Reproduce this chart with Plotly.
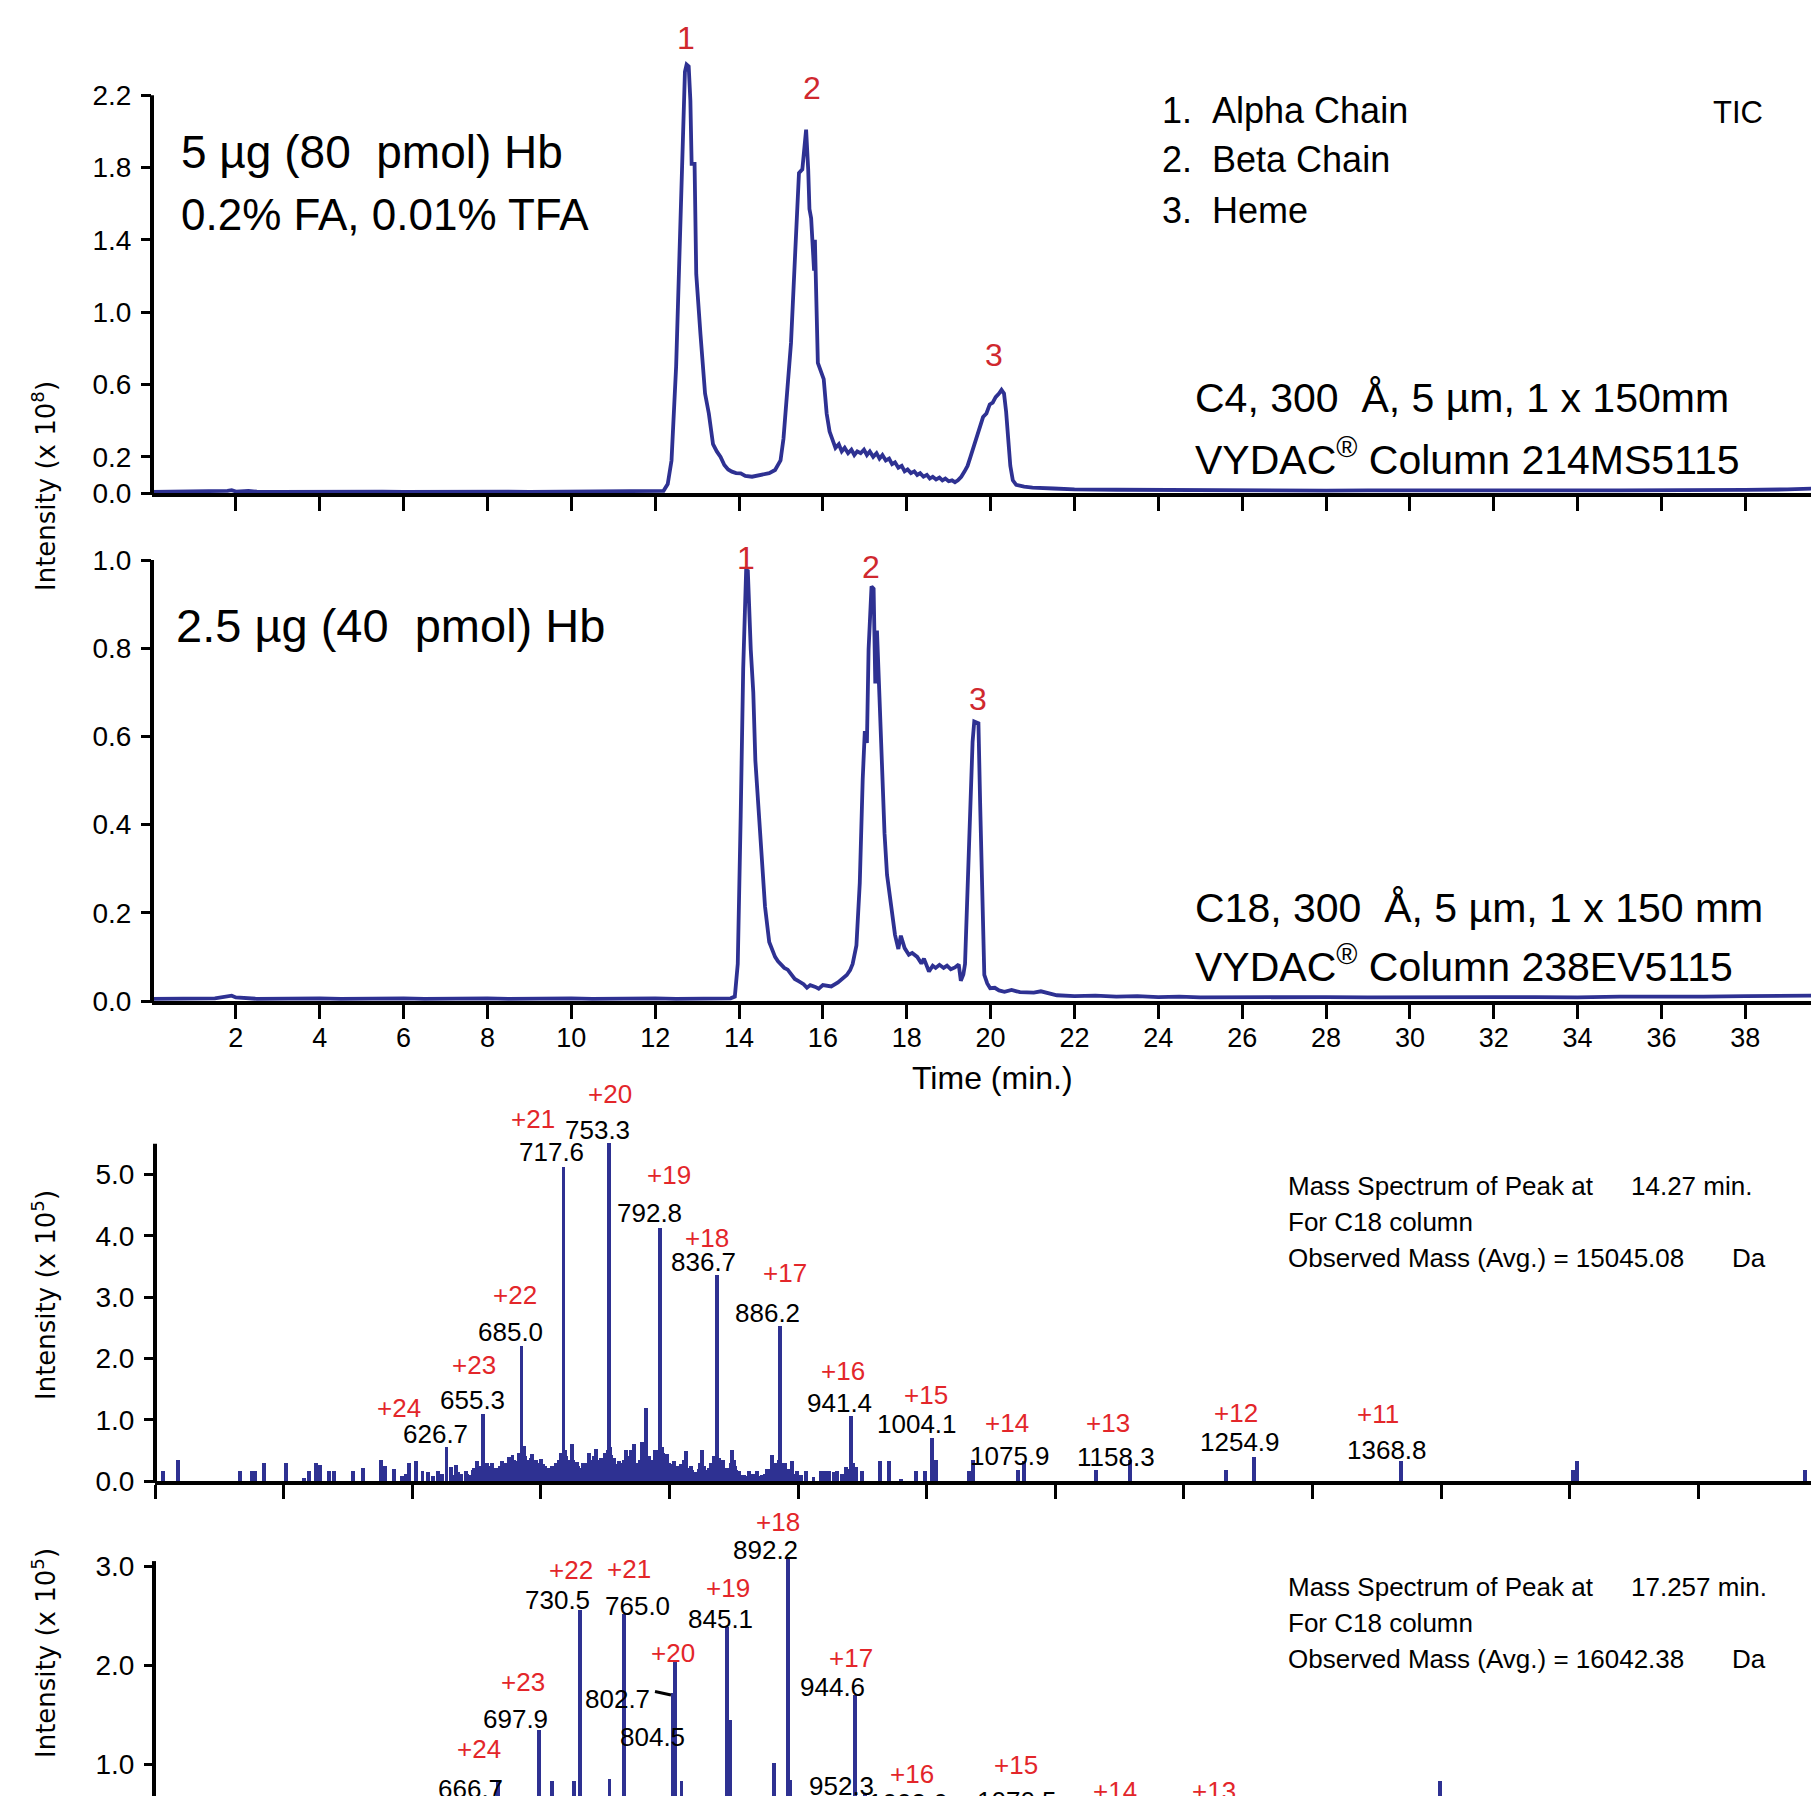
import plotly.graph_objects as go

W = 1811
H_REF = 1796          # target picture height (all pixel positions below refer to it)
H_FIG = 1812          # figure height; the page is squeezed vertically to H_REF when photographed
BLUE = "#2E3192"
RED = "#E3262A"
PRED = "#D0282E"
BLACK = "#000000"
FN = "Liberation Sans Narrow, Arial Narrow, Liberation Sans, sans-serif"
FT = "DejaVu Sans, Verdana, sans-serif"

# ---------------- Chromatogram 1 (C4 column) ----------------
T1 = [0.0, 0.5, 1.0, 1.5, 1.8, 1.9, 2.0, 2.3, 2.5, 3.0, 3.5, 4.0, 4.5, 5.0, 5.5, 6.0, 6.5, 7.0,
      7.5, 8.0, 8.5, 9.0, 9.5, 10.0, 10.5, 11.0, 11.5, 12.0, 12.2,
      12.3, 12.39, 12.5, 12.6, 12.67, 12.71, 12.75, 12.80, 12.84, 12.87, 12.94, 12.98, 13.08,
      13.19, 13.28, 13.38, 13.47, 13.56, 13.65, 13.74, 13.83, 13.93, 14.04, 14.15, 14.31, 14.45,
      14.58, 14.72, 14.86, 14.99, 15.06, 15.13, 15.24, 15.34, 15.43, 15.51, 15.56, 15.60, 15.65,
      15.68, 15.72, 15.75, 15.79, 15.81, 15.84, 15.88, 16.02, 16.09, 16.16, 16.23,
      16.3, 16.38, 16.45, 16.52, 16.6, 16.68, 16.75, 16.82, 16.9, 16.98, 17.05, 17.12, 17.2,
      17.28, 17.35, 17.42, 17.5, 17.58, 17.65, 17.72, 17.8, 17.88, 17.95, 18.02, 18.1, 18.18,
      18.25, 18.32, 18.4, 18.48, 18.55, 18.62, 18.7, 18.78, 18.85, 18.92, 19.0, 19.08, 19.15,
      19.22, 19.3, 19.38, 19.45, 19.52, 19.6, 19.68, 19.75, 19.82, 19.9, 19.98, 20.05, 20.12,
      20.2, 20.26, 20.32, 20.37, 20.42, 20.47, 20.53, 20.61, 20.8, 21.0, 21.5, 22.0, 23.0, 24.0,
      25.0, 26.0, 27.0, 28.0, 29.0, 30.0, 31.0, 32.0, 33.0, 34.0, 35.0, 36.0, 37.0, 38.0, 39.0, 39.6]
I1 = [0.006, 0.007, 0.006, 0.007, 0.012, 0.016, 0.008, 0.012, 0.007, 0.006, 0.007, 0.006, 0.007,
      0.006, 0.008, 0.006, 0.007, 0.006, 0.007, 0.006, 0.008, 0.006, 0.007, 0.006, 0.007, 0.006,
      0.008, 0.007, 0.012,
      0.05, 0.18, 0.70, 1.44, 1.99, 2.33, 2.37, 2.36, 2.17, 1.82, 1.82, 1.21, 0.88,
      0.55, 0.44, 0.27, 0.23, 0.20, 0.155, 0.13, 0.118, 0.11, 0.109, 0.095, 0.09, 0.095,
      0.10, 0.11, 0.127, 0.18, 0.30, 0.51, 0.83, 1.33, 1.77, 1.79, 1.90, 2.01, 1.79,
      1.57, 1.52, 1.40, 1.23, 1.40, 1.05, 0.72, 0.63, 0.44, 0.34, 0.29,
      0.25, 0.27, 0.23, 0.25, 0.22, 0.24, 0.21, 0.23, 0.22, 0.24, 0.21, 0.23, 0.20,
      0.22, 0.19, 0.21, 0.18, 0.19, 0.16, 0.17, 0.14, 0.15, 0.12, 0.13, 0.11, 0.12,
      0.10, 0.11, 0.09, 0.10, 0.08, 0.09, 0.075, 0.085, 0.07, 0.08, 0.065, 0.07, 0.06,
      0.07, 0.09, 0.12, 0.15, 0.20, 0.26, 0.31, 0.36, 0.42, 0.44, 0.49, 0.50, 0.53,
      0.55, 0.57, 0.55, 0.45, 0.30, 0.15, 0.07, 0.045, 0.035, 0.03, 0.025, 0.02, 0.018, 0.016,
      0.015, 0.014, 0.014, 0.013, 0.014, 0.013, 0.014, 0.013, 0.014, 0.014, 0.015, 0.014, 0.016,
      0.017, 0.02, 0.025]

# ---------------- Chromatogram 2 (C18 column) ----------------
T2 = [0.0, 0.5, 1.0, 1.5, 1.9, 2.0, 2.5, 3.0, 3.5, 4.0, 4.5, 5.0, 5.5, 6.0, 6.5, 7.0, 7.5, 8.0,
      8.5, 9.0, 9.5, 10.0, 10.5, 11.0, 11.5, 12.0, 12.5, 13.0, 13.5, 13.8, 13.9,
      13.97, 14.04, 14.10, 14.17, 14.21, 14.28, 14.34, 14.39, 14.47, 14.55, 14.62, 14.72, 14.86,
      14.93, 14.99, 15.08, 15.16, 15.25, 15.33, 15.42, 15.54, 15.62, 15.7, 15.82, 15.9, 16.0,
      16.09, 16.2, 16.36, 16.47, 16.57, 16.65, 16.71, 16.80, 16.88, 16.95, 17.00, 17.05, 17.09,
      17.16, 17.21, 17.25, 17.29, 17.35, 17.41, 17.47, 17.53, 17.64, 17.72, 17.80, 17.86, 17.95,
      18.05, 18.13, 18.25, 18.35, 18.41, 18.53, 18.62, 18.69, 18.78, 18.88, 18.96, 19.05, 19.15,
      19.24, 19.29, 19.35, 19.39, 19.48, 19.57, 19.61, 19.71, 19.75, 19.78, 19.85, 19.92, 19.99,
      20.1, 20.2, 20.33, 20.5, 20.7, 21.03, 21.2, 21.58, 22.0, 22.5, 23.0, 23.5, 24.0, 24.5,
      25.0, 26.0, 27.0, 28.0, 29.0, 30.0, 31.0, 32.0, 33.0, 34.0, 35.0, 36.0, 37.0, 38.0, 39.0, 39.6]
I2 = [0.005, 0.006, 0.005, 0.006, 0.012, 0.008, 0.005, 0.006, 0.005, 0.006, 0.005, 0.006, 0.005,
      0.006, 0.005, 0.006, 0.005, 0.006, 0.005, 0.006, 0.005, 0.006, 0.005, 0.006, 0.005, 0.006,
      0.005, 0.006, 0.005, 0.006, 0.010,
      0.084, 0.42, 0.755, 0.977, 0.975, 0.797, 0.70, 0.545, 0.42, 0.32, 0.214, 0.134, 0.10,
      0.09, 0.084, 0.075, 0.071, 0.06, 0.05, 0.045, 0.038, 0.03, 0.036, 0.032, 0.028, 0.036,
      0.035, 0.033, 0.042, 0.05, 0.059, 0.07, 0.084, 0.126, 0.268, 0.503, 0.612, 0.585, 0.797,
      0.94, 0.935, 0.72, 0.84, 0.688, 0.503, 0.38, 0.286, 0.20, 0.15, 0.118, 0.148, 0.12,
      0.105, 0.109, 0.10, 0.085, 0.096, 0.067, 0.08, 0.075, 0.082, 0.075, 0.08, 0.072, 0.076,
      0.083, 0.046, 0.06, 0.084, 0.336, 0.587, 0.634, 0.63, 0.45, 0.336, 0.059, 0.04, 0.029,
      0.03, 0.024, 0.021, 0.025, 0.02, 0.019, 0.022, 0.013, 0.011, 0.012, 0.010, 0.011, 0.009, 0.010,
      0.008, 0.009, 0.008, 0.009, 0.008, 0.009, 0.008, 0.009, 0.009, 0.008, 0.010, 0.009, 0.010,
      0.011, 0.012, 0.012]

# ---------------- Mass spectrum at 14.27 min ----------------
MZ3 = [406, 418, 466, 475, 478, 485, 502, 516, 520, 525, 528, 535, 539, 554, 562, 576, 579, 586,
       592, 595, 597.5, 603, 608, 612, 616, 620, 623, 626.7, 630, 634, 638, 641.6, 645, 648,
       650.6, 653, 655.3, 658, 660, 662, 664, 666, 668, 670, 673, 675, 678, 681, 683, 685.0,
       687, 690, 693, 696, 698, 700, 703, 705, 708, 711.6, 714, 717.6, 720, 722, 724, 726, 728,
       731, 733, 735, 737.5, 740, 742.7, 745, 747, 750, 753.3, 755, 757, 759, 760.8, 763, 766,
       768, 770, 772.5, 775, 777, 779, 782, 784, 786, 789, 792.8, 795, 798, 800, 803.6, 806, 809,
       812.6, 815, 817, 820, 825.6, 829, 832, 836.7, 839, 842, 845, 849, 851, 854, 858, 862, 865,
       868, 872, 876, 879.5, 883, 886.2, 888, 890, 895, 899, 902, 906, 912, 917.6, 921, 924, 928,
       930.6, 934, 937, 941.4, 943, 945, 949.6, 964, 970.8, 980, 992, 999, 1004.1, 1007, 1033,
       1036, 1071, 1075.9, 1132, 1158.3, 1233, 1254.9, 1368.8, 1502.6, 1506, 1683,
       632, 636, 643, 647, 651, 657, 659, 661, 663, 665, 667, 669, 671, 672, 674, 676, 677, 679,
       680, 682, 684, 686, 688, 689, 691, 692, 694, 695, 697, 699, 701, 702, 704, 706, 707, 709,
       710, 712, 713, 715, 716, 719, 721, 723, 725, 727, 729, 730, 732, 734, 736, 738, 739, 741,
       744, 746, 748, 749, 751, 752, 754, 756, 758, 761, 762, 764, 765, 767, 769, 771, 773, 774,
       776, 778, 780, 781, 783, 785, 787, 788, 790, 791, 794, 796, 797, 799, 801, 802, 804, 805,
       807, 808, 810, 811, 813, 814, 816, 818, 819, 821, 823, 824, 827, 828, 830, 831, 833, 835,
       838, 840, 841, 843, 844, 846, 847, 848, 850, 852, 853, 856, 860, 864, 870, 874, 878, 881,
       885, 887, 892, 893, 897, 940, 942]
H3 = [0.17, 0.34, 0.17, 0.17, 0.17, 0.29, 0.29, 0.05, 0.17, 0.29, 0.26, 0.16, 0.16, 0.16, 0.22,
      0.34, 0.24, 0.19, 0.08, 0.12, 0.30, 0.32, 0.17, 0.15, 0.08, 0.17, 0.12, 0.55, 0.23, 0.26,
      0.12, 0.17, 0.10, 0.22, 0.32, 0.25, 1.10, 0.29, 0.22, 0.30, 0.18, 0.17, 0.25, 0.33, 0.30,
      0.39, 0.42, 0.30, 0.45, 2.20, 0.57, 0.35, 0.44, 0.34, 0.28, 0.36, 0.25, 0.20, 0.22, 0.29,
      0.35, 5.12, 0.40, 0.30, 0.60, 0.28, 0.31, 0.22, 0.29, 0.25, 0.46, 0.32, 0.52, 0.30, 0.37,
      0.45, 5.51, 0.42, 0.37, 0.28, 0.33, 0.26, 0.51, 0.35, 0.51, 0.60, 0.30, 0.35, 0.64, 1.19,
      0.40, 0.29, 0.51, 4.13, 0.45, 0.44, 0.30, 0.33, 0.25, 0.28, 0.49, 0.22, 0.24, 0.15, 0.51,
      0.18, 0.30, 3.36, 0.38, 0.34, 0.22, 0.51, 0.25, 0.17, 0.10, 0.17, 0.12, 0.17, 0.10, 0.20,
      0.42, 0.30, 2.53, 0.25, 0.29, 0.33, 0.17, 0.10, 0.17, 0.07, 0.16, 0.16, 0.17, 0.15, 0.17,
      0.12, 0.23, 1.06, 0.30, 0.23, 0.17, 0.33, 0.33, 0.04, 0.16, 0.16, 0.70, 0.34, 0.17, 0.34,
      0.18, 0.33, 0.18, 0.35, 0.18, 0.39, 0.33, 0.18, 0.33, 0.18,
      0.10, 0.15, 0.12, 0.18, 0.15, 0.20, 0.15, 0.25, 0.20, 0.22, 0.15, 0.20, 0.28, 0.18, 0.25,
      0.30, 0.22, 0.35, 0.25, 0.33, 0.40, 0.45, 0.40, 0.30, 0.25, 0.38, 0.30, 0.22, 0.25, 0.30,
      0.22, 0.28, 0.18, 0.22, 0.15, 0.25, 0.18, 0.20, 0.25, 0.30, 0.45, 0.50, 0.35, 0.25, 0.35,
      0.22, 0.25, 0.18, 0.20, 0.22, 0.30, 0.35, 0.25, 0.40, 0.35, 0.28, 0.30, 0.35, 0.40, 0.50,
      0.55, 0.30, 0.25, 0.28, 0.22, 0.30, 0.35, 0.40, 0.30, 0.35, 0.30, 0.25, 0.28, 0.30, 0.35,
      0.40, 0.30, 0.25, 0.35, 0.30, 0.40, 0.50, 0.55, 0.35, 0.30, 0.25, 0.28, 0.22, 0.20, 0.25,
      0.18, 0.20, 0.25, 0.35, 0.30, 0.20, 0.15, 0.18, 0.12, 0.15, 0.20, 0.30, 0.25, 0.18, 0.15,
      0.22, 0.28, 0.40, 0.35, 0.25, 0.28, 0.20, 0.15, 0.18, 0.22, 0.30, 0.35, 0.18, 0.12, 0.10,
      0.08, 0.10, 0.08, 0.12, 0.20, 0.25, 0.35, 0.30, 0.15, 0.20, 0.12, 0.20, 0.25]
LAB3 = ["+20", "+21", "753.3", "717.6", "+19", "792.8", "+18", "836.7", "+17", "886.2", "+22",
        "685.0", "+23", "655.3", "+24", "626.7", "+16", "941.4", "+15", "1004.1", "+14", "1075.9",
        "+13", "1158.3", "+12", "1254.9", "+11", "1368.8"]

# ---------------- Mass spectrum at 17.257 min ----------------
MZ4 = [666.7, 698.6, 709, 725.5, 730.5, 753.4, 765.0, 802.7, 804.5, 809.4, 845.1, 847, 881,
       892.2, 894, 944.6, 952.3, 1399]
H4 = [0.84, 1.35, 0.83, 0.83, 2.56, 0.85, 2.52, 1.72, 2.03, 0.83, 2.39, 1.45, 1.01, 3.08, 0.84,
      1.70, 0.70, 0.83]
LAB4 = ["+18", "892.2", "+22", "+21", "730.5", "765.0", "+19", "845.1", "+20", "802.7", "804.5",
        "+23", "697.9", "+24", "666.7", "+17", "944.6", "952.3", "+16", "+15", "+14", "+13",
        "1003.6", "1070.5"]

# ---------------- layout geometry (target pixels from top) ----------------
def fy(px):
    return 1 - px / H_REF


def ydom(top, bot):
    return [max(0.0, fy(bot)), fy(top)]


Y1_DOM, Y1_RNG = ydom(20, 493), [0, 473 / 180.8]
Y2_DOM, Y2_RNG = ydom(530, 1001), [0, 471 / 441.0]
Y3_DOM, Y3_RNG = ydom(1075, 1481), [0, 406 / 61.3]
Y4_DOM, Y4_RNG = ydom(1505, H_REF), [(1863.5 - H_REF) / 99.15, (1863.5 - 1505) / 99.15]
XT_DOM, XT_RNG = [152 / W, 1], [0, (W - 152) / 41.93]
XM_DOM, XM_RNG = [155 / W, 1], [400, 400 + (W - 155) / 1.286]


def yp(val, dom, rng):
    return dom[0] + (val - rng[0]) / (rng[1] - rng[0]) * (dom[1] - dom[0])


fig = go.Figure()
fig.add_trace(go.Scatter(x=T1, y=I1, xaxis="x2", yaxis="y", mode="lines",
                         line=dict(color=BLUE, width=3.8), showlegend=False))
fig.add_trace(go.Scatter(x=T2, y=I2, xaxis="x", yaxis="y2", mode="lines",
                         line=dict(color=BLUE, width=3.8), showlegend=False))
fig.add_trace(go.Bar(x=MZ3, y=H3, xaxis="x3", yaxis="y3", width=3.0,
                     marker=dict(color=BLUE, line=dict(width=0)), showlegend=False))
fig.add_trace(go.Bar(x=MZ4, y=H4, xaxis="x4", yaxis="y4", width=3.0,
                     marker=dict(color=BLUE, line=dict(width=0)), showlegend=False))

common_x = dict(showgrid=False, zeroline=False, ticks="outside", ticklen=14, tickwidth=3,
                tickcolor=BLACK, linecolor=BLACK, linewidth=4, layer="below traces",
                tickfont=dict(family=FN, size=27, color=BLACK))
common_y = dict(showgrid=False, zeroline=False, showline=False, ticks="outside", ticklen=10,
                tickwidth=3, tickcolor=BLACK, tickformat=".1f", ticklabelstandoff=4,
                tickfont=dict(family=FN, size=28, color=BLACK))

time_ticks = list(range(2, 40, 2))
mz_ticks = list(range(400, 1700, 100))

fig.update_layout(
    width=W, height=H_FIG, margin=dict(l=0, r=0, t=0, b=0),
    paper_bgcolor="white", plot_bgcolor="rgba(0,0,0,0)", bargap=0,
    xaxis=dict(domain=XT_DOM, range=XT_RNG, anchor="y2", tickvals=time_ticks, showline=True,
               ticklabelstandoff=-4, **common_x),
    xaxis2=dict(domain=XT_DOM, range=XT_RNG, anchor="y", tickvals=time_ticks, showline=True,
                showticklabels=False, **common_x),
    xaxis3=dict(domain=XM_DOM, range=XM_RNG, anchor="y3", tickvals=mz_ticks, showline=True,
                showticklabels=False, **common_x),
    xaxis4=dict(domain=XM_DOM, range=XM_RNG, anchor="y4", showline=False, showticklabels=False,
                showgrid=False, zeroline=False, ticks=""),
    yaxis=dict(domain=Y1_DOM, range=Y1_RNG, anchor="x2",
               tickvals=[0.0, 0.2, 0.6, 1.0, 1.4, 1.8, 2.2], **common_y),
    yaxis2=dict(domain=Y2_DOM, range=Y2_RNG, anchor="x",
                tickvals=[0.0, 0.2, 0.4, 0.6, 0.8, 1.0], **common_y),
    yaxis3=dict(domain=Y3_DOM, range=Y3_RNG, anchor="x3",
                tickvals=[0.0, 1.0, 2.0, 3.0, 4.0, 5.0], **common_y),
    yaxis4=dict(domain=Y4_DOM, range=Y4_RNG, anchor="x4",
                tickvals=[1.0, 2.0, 3.0], **common_y),
)

shapes = []
for xpx, dom, rng, lo, hi in [(152, Y1_DOM, Y1_RNG, 0, 2.2), (152, Y2_DOM, Y2_RNG, 0, 1.0),
                              (155, Y3_DOM, Y3_RNG, 0, 5.5), (154, Y4_DOM, Y4_RNG, Y4_RNG[0], 3.05)]:
    shapes.append(dict(type="line", xref="paper", yref="paper", x0=xpx / W, x1=xpx / W,
                       y0=yp(lo, dom, rng) - 2 / H_REF, y1=yp(hi, dom, rng),
                       line=dict(color=BLACK, width=4), layer="above"))
shapes.append(dict(type="line", xref="paper", yref="paper", x0=655 / W, x1=671 / W,
                   y0=fy(1691.5), y1=fy(1695), line=dict(color=BLACK, width=3)))
fig.update_layout(shapes=shapes)

ann = []


def txt(x, y, s, size, color=BLACK, xa="center", fam=FN, angle=0):
    ann.append(dict(x=x / W, y=fy(y), xref="paper", yref="paper", text=s, showarrow=False,
                    xanchor=xa, yanchor="middle", textangle=angle,
                    font=dict(family=fam, size=size, color=color)))


NB = "\u00a0"
txt(179, 152, "5 µg (80" + NB + NB + "pmol) Hb", 46, xa="left")
txt(179, 215, "0.2% FA, 0.01% TFA", 44, xa="left")
txt(1160, 110, "1." + NB + NB + "Alpha Chain", 36, xa="left")
txt(1160, 160, "2." + NB + NB + "Beta Chain", 36, xa="left")
txt(1160, 210, "3." + NB + NB + "Heme", 36, xa="left")
txt(1738, 113, "TIC", 31)
txt(1193, 398, "C4, 300" + NB + NB + "Å, 5 µm, 1 x 150mm", 41, xa="left")
txt(1193, 457, "VYDAC<sup>®</sup> Column 214MS5115", 41, xa="left")
txt(174, 625, "2.5 µg (40" + NB + NB + "pmol) Hb", 47, xa="left")
txt(1193, 908, "C18, 300" + NB + NB + "Å, 5 µm, 1 x 150 mm", 41, xa="left")
txt(1193, 964, "VYDAC<sup>®</sup> Column 238EV5115", 41, xa="left")
txt(993, 1078, "Time (min.)", 32)

for s, x, y in [("1", 686, 38), ("2", 812, 88), ("3", 994, 355),
                ("1", 746, 558), ("2", 871, 567), ("3", 978, 699)]:
    txt(x, y, s, 32, PRED)

txt(44, 486, "Intensity (x 10<sup>8</sup>)", 26, fam=FT, angle=-90)
txt(44, 1295, "Intensity (x 10<sup>5</sup>)", 26, fam=FT, angle=-90)
txt(44, 1653, "Intensity (x 10<sup>5</sup>)", 26, fam=FT, angle=-90)

POS3 = [(610, 1094), (533, 1119), (597, 1130), (551, 1152), (669, 1175), (649, 1213), (707, 1238),
        (703, 1262), (785, 1273), (767, 1313), (515, 1295), (510, 1332), (474, 1365), (472, 1400),
        (399, 1408), (435, 1434), (843, 1371), (839, 1403), (926, 1395), (917, 1424), (1007, 1423),
        (1010, 1456), (1108, 1423), (1116, 1457), (1236, 1413), (1240, 1442), (1378, 1414),
        (1387, 1450)]
for s, (x, y) in zip(LAB3, POS3):
    txt(x, y, s, 26, RED if s.startswith("+") else BLACK)

POS4 = [(778, 1522), (765, 1550), (571, 1570), (629, 1569), (557, 1600), (637, 1606), (728, 1588),
        (720, 1619), (673, 1653), (617, 1699), (652, 1737), (523, 1682), (515, 1719), (479, 1749),
        (470, 1789), (851, 1658), (832, 1687), (841, 1786), (912, 1774), (1016, 1765), (1115, 1791),
        (1214, 1791), (908, 1803), (1017, 1801)]
for s, (x, y) in zip(LAB4, POS4):
    txt(x, y, s, 26, RED if s.startswith("+") else BLACK)

for y0, t_min, mass in [(1186, "14.27 min.", "15045.08"), (1587, "17.257 min.", "16042.38")]:
    txt(1286, y0, "Mass Spectrum of Peak at", 26, xa="left")
    txt(1629, y0, t_min, 26, xa="left")
    txt(1286, y0 + 36, "For C18 column", 26, xa="left")
    txt(1286, y0 + 72, "Observed Mass (Avg.) = " + mass, 26, xa="left")
    txt(1730, y0 + 72, "Da", 26, xa="left")

fig.update_layout(annotations=ann)
fig.write_html("out.html")
